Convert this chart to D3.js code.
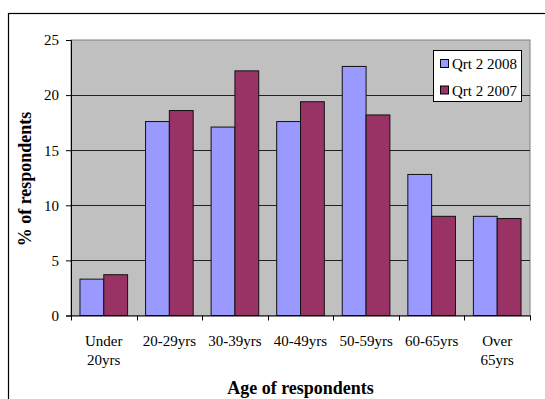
<!DOCTYPE html>
<html><head><meta charset="utf-8">
<script src="https://cdn.jsdelivr.net/npm/d3@7"></script>
<style>html,body{margin:0;padding:0;background:#fff;}svg{display:block;}</style>
</head><body>
<svg id="chart" width="545" height="399"></svg>
<script>
const categories = [["Under","20yrs"],["20-29yrs"],["30-39yrs"],["40-49yrs"],["50-59yrs"],["60-65yrs"],["Over","65yrs"]];
const seriesNames = ["Qrt 2 2008","Qrt 2 2007"];
const values2008 = [3.3, 17.6, 17.1, 17.6, 22.6, 12.8, 9.0];
const values2007 = [3.7, 18.6, 22.2, 19.4, 18.2, 9.0, 8.8];
const yTicks = [0,5,10,15,20,25];
const colors = ["#9999FF","#993366"];

const svg = d3.select("#chart");
const font = "'Liberation Serif','Times New Roman',serif";
const m = {left:71, right:530, top:40, bottom:315.5};

// outer frame
svg.append("rect").attr("x",8.5).attr("y",13.5).attr("width",600).attr("height",500)
  .attr("fill","none").attr("stroke","#000").attr("stroke-width",1.2);

const x = d3.scaleBand().domain(d3.range(categories.length)).range([m.left,m.right]).paddingInner(0).paddingOuter(0);
const y = d3.scaleLinear().domain([0,25]).range([m.bottom,m.top]);
const xs = d3.scaleBand().domain([0,1]).range([0,x.bandwidth()]).paddingInner(0).paddingOuter(0.377);

// plot bg
svg.append("rect").attr("x",m.left).attr("y",m.top).attr("width",m.right-m.left).attr("height",m.bottom-m.top)
  .attr("fill","#C0C0C0").attr("stroke","#808080").attr("stroke-width",1);

// gridlines
svg.append("g").selectAll("line").data(yTicks.filter(t=>t>0 && t<25)).join("line")
  .attr("x1",m.left).attr("x2",m.right).attr("y1",d=>Math.round(y(d))+0.5).attr("y2",d=>Math.round(y(d))+0.5)
  .attr("stroke","#222").attr("stroke-width",1);

// bars
const series = [values2008, values2007];
series.forEach((vals,si)=>{
  svg.append("g").selectAll("rect").data(vals).join("rect")
    .attr("x",(d,i)=>x(i)+xs(si))
    .attr("width",xs.bandwidth())
    .attr("y",d=>y(d))
    .attr("height",d=>y(0)-y(d))
    .attr("fill",colors[si]).attr("stroke","#111").attr("stroke-width",1);
});

// y axis
const yAxis = d3.axisLeft(y).tickValues(yTicks).tickSize(5).tickPadding(7);
const gy = svg.append("g").attr("transform",`translate(${m.left},0)`).call(yAxis);
gy.select(".domain").attr("stroke","#000");
gy.selectAll(".tick line").attr("stroke","#000");
gy.selectAll("text").attr("font-family",font).attr("font-size",15).attr("fill","#000");

// x axis
const xAxis = d3.axisBottom(x).tickSize(0).tickFormat("");
const gx = svg.append("g").attr("transform",`translate(0,${m.bottom})`).call(xAxis);
gx.select(".domain").attr("stroke","#000");
// category boundary ticks
svg.append("g").selectAll("line").data(d3.range(categories.length+1)).join("line")
  .attr("x1",i=>Math.round(m.left + i*x.step())+0.5).attr("x2",i=>Math.round(m.left + i*x.step())+0.5)
  .attr("y1",m.bottom).attr("y2",m.bottom+5).attr("stroke","#000");
// category labels
const cl = svg.append("g").selectAll("text").data(categories).join("text")
  .attr("font-family",font).attr("font-size",15).attr("text-anchor","middle").attr("fill","#000")
  .attr("transform",(d,i)=>`translate(${x(i)+x.bandwidth()/2},${345.5})`);
cl.each(function(d){
  d3.select(this).selectAll("tspan").data(d).join("tspan").attr("x",0).attr("dy",(t,j)=>j===0?0:19.5).text(t=>t);
});

// axis titles
svg.append("text").attr("x",(m.left+m.right)/2).attr("y",394).attr("text-anchor","middle")
  .attr("font-family",font).attr("font-size",18).attr("font-weight","bold").text("Age of respondents");
svg.append("text").attr("transform",`translate(31,${179}) rotate(-90)`).attr("text-anchor","middle")
  .attr("font-family",font).attr("font-size",18).attr("font-weight","bold").text("% of respondents");

// legend
const lg = svg.append("g");
lg.append("rect").attr("x",433.5).attr("y",50.5).attr("width",88).attr("height",51)
  .attr("fill","#fff").attr("stroke","#000").attr("stroke-width",1);
seriesNames.forEach((s,i)=>{
  const cy = 64 + i*26.5;
  lg.append("rect").attr("x",440.5).attr("y",cy-4.5).attr("width",8).attr("height",8)
    .attr("fill",colors[i]).attr("stroke","#000").attr("stroke-width",1);
  lg.append("text").attr("x",452).attr("y",cy+5).attr("font-family",font).attr("font-size",15).text(s);
});
</script>
</body></html>
